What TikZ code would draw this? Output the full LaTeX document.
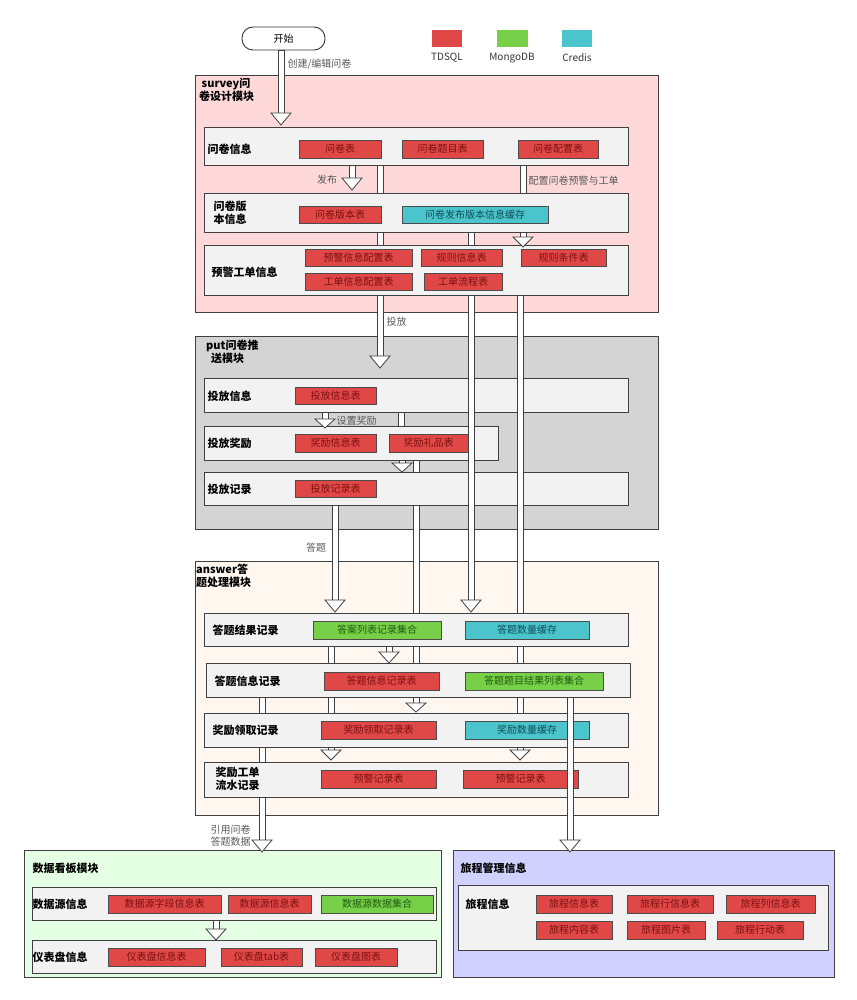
\documentclass[tikz,border=0pt]{standalone}
\usepackage{fontspec}
\setmainfont{Noto Sans CJK SC}
\begin{document}
\definecolor{tR}{HTML}{E04848}\definecolor{tRt}{HTML}{7A1010}
\definecolor{tG}{HTML}{78D048}\definecolor{tGt}{HTML}{1E5A10}
\definecolor{tC}{HTML}{4CC4CC}\definecolor{tCt}{HTML}{0E4E55}
\begin{tikzpicture}[x=1pt,y=-1pt,
 mod/.style={draw=black!75,line width=0.9pt},
 box/.style={draw=black!75,fill=black!5,line width=0.9pt},
 lab/.style={font=\fontsize{11}{13}\selectfont\bfseries,anchor=west,align=left},
 ann/.style={font=\fontsize{10}{12}\selectfont,text=black!65},
 tbl/.style={draw=black!70,line width=0.6pt,font=\fontsize{10}{12}\selectfont},
 red/.style={tbl,fill=tR,text=tRt},
 grn/.style={tbl,fill=tG,text=tGt},
 cyn/.style={tbl,fill=tC,text=tCt},
 arr/.style={draw=black!75,fill=white,line width=0.8pt}]
\useasboundingbox (0,0) rectangle (856,1000);
\newcommand\tb[6]{\draw[#1] (#2,#4) rectangle (#3,#5) node[midway] {#6};}
\newcommand\hsh[3]{\draw[arr] (#1-3,#2) rectangle (#1+3,#3);}
\newcommand\har[4]{\draw[arr] (#1-3,#2) rectangle (#1+3,#3);
 \draw[arr] (#1-10,#3) -- (#1+10,#3) -- (#1,#4) -- cycle;}
% start & legend
\node[draw=black!80,line width=0.9pt,rounded corners=11pt,minimum width=83pt,minimum height=23pt,font=\fontsize{10}{12}\selectfont] (start) at (283.5,38.5) {开始};
\fill[tR] (432,30) rectangle (462,47); \node[font=\fontsize{10}{12}\selectfont,text=black!80] at (447,58) {TDSQL};
\fill[tG] (497,30) rectangle (528,47); \node[font=\fontsize{10}{12}\selectfont,text=black!80] at (512,58) {MongoDB};
\fill[tC] (562,30) rectangle (592,47); \node[font=\fontsize{10}{12}\selectfont,text=black!80] at (577,58) {Credis};
% survey
\draw[mod,fill=red!15] (195,75) rectangle (658,312);
\node[lab,anchor=north west,inner sep=0] at (199,78) {\ survey问\\卷设计模块};
\draw[box] (204,127) rectangle (628,165); \node[lab] at (204,149) {问卷信息};
\tb{red}{299}{381}{140}{158}{问卷表}\tb{red}{402}{483}{140}{158}{问卷题目表}\tb{red}{518}{598}{140}{158}{问卷配置表}
\draw[box] (204,193) rectangle (628,232); \node[lab] at (210,213) {问卷版\\本信息};
\tb{red}{299}{381}{206}{223}{问卷版本表}\tb{cyn}{402}{548}{206}{223}{问卷发布版本信息缓存}
\draw[box] (204,245) rectangle (628,295); \node[lab] at (208,272) {预警工单信息};
\tb{red}{305}{412}{249}{266}{预警信息配置表}\tb{red}{305}{412}{273}{290}{工单信息配置表}
\tb{red}{421}{502}{249}{266}{规则信息表}\tb{red}{424}{502}{273}{290}{工单流程表}\tb{red}{521}{606}{249}{266}{规则条件表}
% put
\draw[mod,fill=black!17] (195,336) rectangle (658,529);
\node[lab,anchor=north west,inner sep=0] at (206,340) {put问卷推\\\ \ 送模块};
\draw[box] (204,378) rectangle (628,412); \node[lab] at (204,396) {投放信息};
\tb{red}{295}{376}{387}{404}{投放信息表}
\draw[box] (204,426) rectangle (498,460); \node[lab] at (204,443) {投放奖励};
\tb{red}{295}{376}{434}{452}{奖励信息表}\tb{red}{389}{468}{434}{452}{奖励礼品表}
\draw[box] (204,472) rectangle (628,505); \node[lab] at (204,489) {投放记录};
\tb{red}{295}{376}{480}{497}{投放记录表}
% answer
\draw[mod,fill=orange!6] (195,561) rectangle (658,815);
\node[lab,anchor=north west,inner sep=0] at (196,564) {answer答\\题处理模块};
\draw[box] (204,613) rectangle (628,646); \node[lab] at (209,630) {答题结果记录};
\tb{grn}{313}{441}{621}{639}{答案列表记录集合}\tb{cyn}{465}{589}{621}{639}{答题数量缓存}
\draw[box] (206,663) rectangle (630,697); \node[lab] at (211,681) {答题信息记录};
\tb{red}{324}{439}{672}{690}{答题信息记录表}\tb{grn}{465}{603}{672}{690}{答题题目结果列表集合}
\draw[box] (204,713) rectangle (628,747); \node[lab] at (209,730) {奖励领取记录};
\tb{red}{321}{436}{721}{739}{奖励领取记录表}\tb{cyn}{465}{589}{721}{739}{奖励数量缓存}
\draw[box] (204,762) rectangle (628,797); \node[lab] at (212,779) {奖励工单\\流水记录};
\tb{red}{321}{436}{770}{788}{预警记录表}\tb{red}{463}{578}{770}{788}{预警记录表}
% data board
\draw[mod,fill=green!10] (24,850) rectangle (441,977);
\node[lab] at (29,868) {数据看板模块};
\draw[box] (32,887) rectangle (436,920); \node[lab] at (29,904) {数据源信息};
\tb{red}{108}{221}{895}{913}{数据源字段信息表}\tb{red}{228}{311}{895}{913}{数据源信息表}\tb{grn}{321}{433}{895}{913}{数据源数据集合}
\draw[box] (32,940) rectangle (436,973); \node[lab] at (29,957) {仪表盘信息};
\tb{red}{108}{205}{948}{966}{仪表盘信息表}\tb{red}{221}{302}{948}{966}{仪表盘tab表}\tb{red}{315}{397}{948}{966}{仪表盘图表}
% trip
\draw[mod,fill=blue!18] (453,850) rectangle (834,977);
\node[lab] at (457,868) {旅程管理信息};
\draw[box] (458,885) rectangle (828,950); \node[lab] at (462,904) {旅程信息};
\tb{red}{536}{612}{895}{913}{旅程信息表}\tb{red}{627}{713}{895}{913}{旅程行信息表}\tb{red}{726}{815}{895}{913}{旅程列信息表}
\tb{red}{536}{612}{921}{939}{旅程内容表}\tb{red}{627}{705}{921}{939}{旅程图片表}\tb{red}{717}{803}{921}{939}{旅程行动表}
% arrows
\har{281}{50}{113}{125}
\node[ann,anchor=west] at (284,64) {创建/编辑问卷};
\har{352}{165}{178}{190} \node[ann] at (327,180) {发布};
\hsh{380}{165}{193}\hsh{380}{232}{245}\har{380}{295}{356}{368}
\node[ann,anchor=west] at (383,322) {投放};
\hsh{523}{165}{193}\node[ann,anchor=west] at (525,181) {配置问卷预警与工单};
\har{523}{232}{237}{247}
\hsh{471}{232}{245}\har{471}{295}{600}{612}
\hsh{520}{295}{613}\hsh{520}{646}{663}\hsh{520}{697}{713}\har{520}{747}{750}{760}
\har{325}{412}{419}{428}\node[ann,anchor=west] at (333,421) {设置奖励};
\hsh{401}{412}{426}\har{402}{460}{463}{472}
\hsh{416}{460}{472}\hsh{416}{505}{613}\hsh{416}{646}{663}\har{416}{697}{703}{712}
\har{335}{505}{600}{612}\node[ann] at (316,548) {答题};
\hsh{331}{646}{663}\hsh{331}{697}{713}\har{331}{747}{750}{760}
\har{389}{646}{652}{663}
\hsh{262}{697}{713}\hsh{262}{747}{762}\har{262}{797}{840}{852}
\node[ann,align=left,anchor=west] at (207,836) {引用问卷\\答题数据};
\har{570}{697}{840}{852}
\har{216}{920}{929}{940}
\end{tikzpicture}
\end{document}
